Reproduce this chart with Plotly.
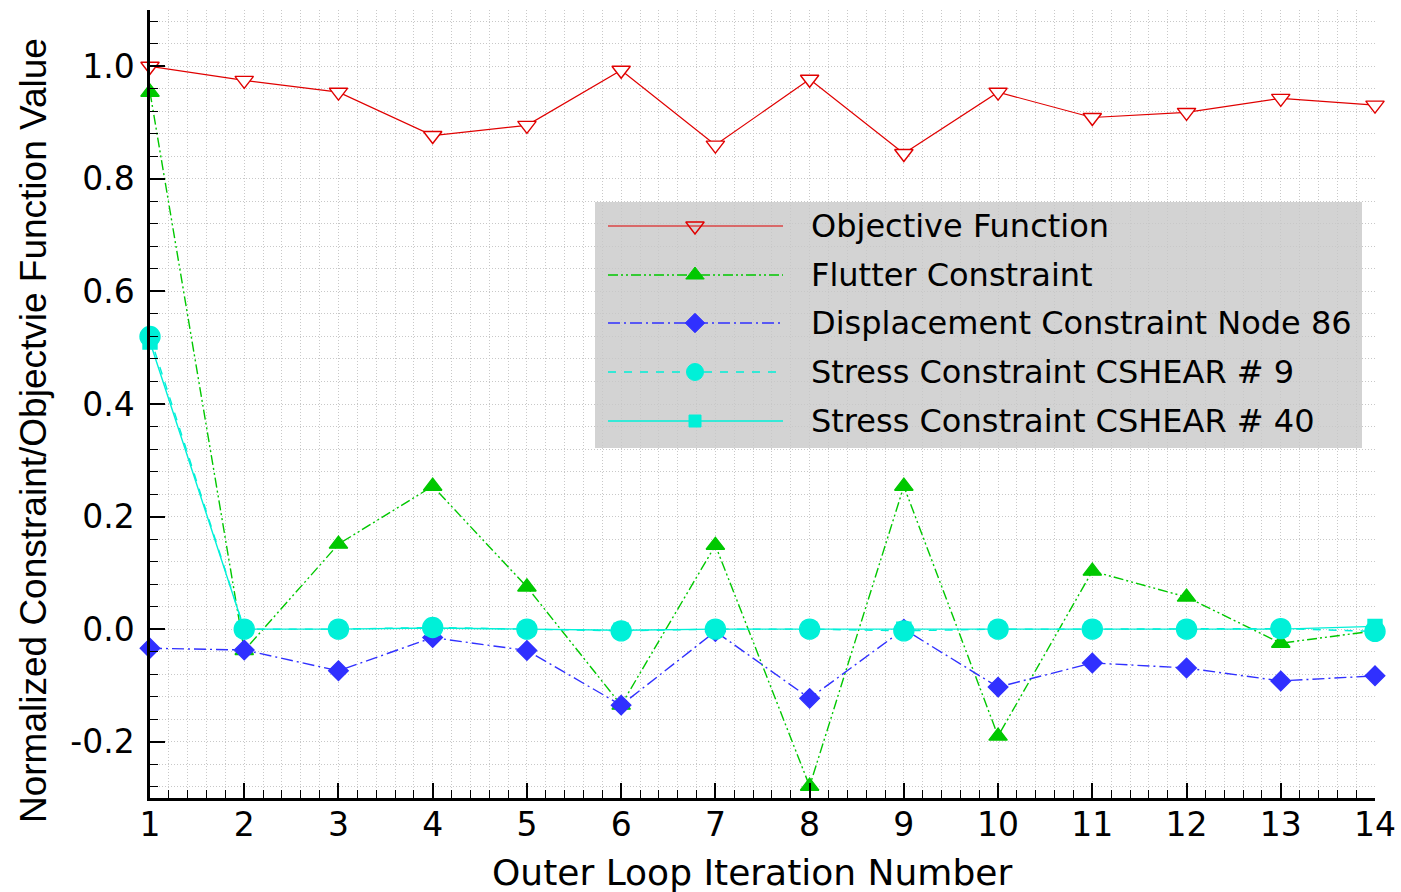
import plotly.graph_objects as go

# Outer-loop optimisation history
iterations = list(range(1, 15))
objective = [1.000, 0.975, 0.954, 0.877, 0.895, 0.993, 0.860, 0.977, 0.845, 0.954, 0.909, 0.918, 0.943, 0.931]
flutter = [0.954, -0.038, 0.151, 0.254, 0.075, -0.135, 0.149, -0.279, 0.254, -0.190, 0.103, 0.057, -0.025, -0.003]
displacement = [-0.034, -0.037, -0.074, -0.015, -0.038, -0.135, -0.004, -0.123, 0.000, -0.103, -0.060, -0.069, -0.092, -0.083]
stress9 = [0.520, 0.000, 0.000, 0.003, 0.000, -0.003, 0.000, 0.000, -0.003, 0.000, 0.000, 0.000, 0.001, -0.004]
stress40 = [0.510, 0.000, 0.000, 0.002, 0.000, -0.002, 0.000, 0.000, 0.000, 0.000, 0.000, 0.000, 0.000, 0.005]

y_tick_values = [-0.2, 0.0, 0.2, 0.4, 0.6, 0.8, 1.0]
y_tick_labels = ["-0.2", "0.0", "0.2", "0.4", "0.6", "0.8", "1.0"]

series_names = [
    "Objective Function",
    "Flutter Constraint",
    "Displacement Constraint Node 86",
    "Stress Constraint CSHEAR # 9",
    "Stress Constraint CSHEAR # 40",
]

RED = "#e00000"
GREEN = "#00c800"
BLUE = "#3030ff"
CYAN = "#00f0d8"
LEGEND_BG = "#d3d3d3"

styles = [
    dict(color=RED, width=1.2, dash="solid", symbol="triangle-down", msize=16, mcolor="white"),
    dict(color=GREEN, width=1.4, dash="10px,3px,2px,3px,2px,3px", symbol="triangle-up", msize=16, mcolor=GREEN),
    dict(color=BLUE, width=1.4, dash="12px,4px,2px,4px", symbol="diamond", msize=15, mcolor=BLUE),
    dict(color=CYAN, width=1.4, dash="8px,8px", symbol="circle", msize=20, mcolor=CYAN),
    dict(color=CYAN, width=1.4, dash="solid", symbol="square", msize=14, mcolor=CYAN),
]

values = [objective, flutter, displacement, stress9, stress40]

fig = go.Figure()

for name, ys, st in zip(series_names, values, styles):
    fig.add_trace(go.Scatter(
        x=iterations, y=ys, name=name, mode="lines+markers",
        line=dict(color=st["color"], width=st["width"], dash=st["dash"]),
        marker=dict(symbol=st["symbol"], size=st["msize"], color=st["mcolor"],
                    line=dict(color=st["color"], width=1.4)),
        cliponaxis=False, showlegend=False,
    ))

# Page and plot-area geometry in pixels
W, H = 1401, 892
L, R, T, B = 150, 26, 10, 94
pw, ph = W - L - R, H - T - B


def px_x(px):
    return (px - L) / pw


def px_y(py):
    return (H - B - py) / ph


TEXT_FONT = "DejaVu Sans, Verdana, sans-serif"
TITLE_FONT = "Liberation Sans, Arial, sans-serif"

# Legend drawn as a grey panel with long line samples
fig.add_shape(type="rect", xref="paper", yref="paper", layer="between",
              x0=px_x(595), x1=px_x(1362), y0=px_y(448), y1=px_y(202),
              fillcolor=LEGEND_BG, line=dict(width=0))

row_y = [226, 275, 323, 372, 421]
line_x0, line_x1, mark_x, text_x = 608, 783, 695, 809
legend_marker_sizes = [16, 16, 15, 17, 12]

for name, st, ry, ms in zip(series_names, styles, row_y, legend_marker_sizes):
    fig.add_shape(type="line", xref="paper", yref="paper", layer="above",
                  x0=px_x(line_x0), x1=px_x(line_x1), y0=px_y(ry), y1=px_y(ry),
                  line=dict(color=st["color"], width=st["width"], dash=st["dash"]))
    fill = LEGEND_BG if name == "Objective Function" else st["mcolor"]
    fig.add_trace(go.Scatter(
        x=[px_x(mark_x)], y=[px_y(ry)], mode="markers",
        marker=dict(symbol=st["symbol"], size=ms, color=fill,
                    line=dict(color=st["color"], width=1.4 if name == "Objective Function" else 1)),
        xaxis="x2", yaxis="y2", showlegend=False, hoverinfo="skip", cliponaxis=False,
    ))
    fig.add_annotation(x=px_x(text_x), y=px_y(ry), xref="paper", yref="paper",
                       text=name, showarrow=False, xanchor="left", yanchor="middle",
                       font=dict(family=TEXT_FONT, size=32, color="black"))

# Axis titles
fig.add_annotation(x=px_x(752), y=px_y(872), xref="paper", yref="paper",
                   text="Outer Loop Iteration Number", showarrow=False,
                   xanchor="center", yanchor="middle",
                   font=dict(family=TEXT_FONT, size=36, color="black"))
fig.add_annotation(x=px_x(33), y=px_y(431), xref="paper", yref="paper",
                   text="Normalized Constraint/Objectvie Function Value", showarrow=False,
                   textangle=-90, xanchor="center", yanchor="middle",
                   font=dict(family=TITLE_FONT, size=37, color="black"))

grid_color = "#c8c8c8"
grid_dash = "1px,2px"

fig.update_layout(
    template="none",
    width=W, height=H,
    margin=dict(l=L, r=R, t=T, b=B, pad=0, autoexpand=False),
    paper_bgcolor="white", plot_bgcolor="white",
    font=dict(family=TEXT_FONT, color="black"),
    showlegend=False,
    xaxis=dict(
        range=[1, 14], tickmode="linear", tick0=1, dtick=1, automargin=False,
        showline=True, linecolor="black", linewidth=2.5, mirror=False,
        ticks="inside", ticklen=15, tickwidth=1.6, tickcolor="black",
        tickfont=dict(size=33, family=TEXT_FONT), ticklabelstandoff=-4,
        showgrid=True, gridcolor=grid_color, gridwidth=1, griddash=grid_dash,
        zeroline=False,
        minor=dict(dtick=0.2, tick0=1, ticks="inside", ticklen=8, tickwidth=1.2,
                   tickcolor="black", showgrid=True, gridcolor=grid_color,
                   gridwidth=1, griddash=grid_dash),
    ),
    yaxis=dict(
        range=[-0.3, 1.1], tickmode="array", tickvals=y_tick_values, ticktext=y_tick_labels,
        automargin=False,
        showline=True, linecolor="black", linewidth=2.5, mirror=False,
        ticks="inside", ticklen=15, tickwidth=1.6, tickcolor="black",
        tickfont=dict(size=33, family=TEXT_FONT), ticklabelstandoff=6,
        showgrid=True, gridcolor=grid_color, gridwidth=1, griddash=grid_dash,
        zeroline=False,
        minor=dict(tickmode="linear", dtick=0.04, tick0=0, ticks="inside", ticklen=8, tickwidth=1.2,
                   tickcolor="black", showgrid=True, gridcolor=grid_color,
                   gridwidth=1, griddash=grid_dash),
    ),
    xaxis2=dict(overlaying="x", range=[0, 1], visible=False, domain=[0, 1], automargin=False),
    yaxis2=dict(overlaying="y", range=[0, 1], visible=False, domain=[0, 1], automargin=False),
)

fig.write_html("out.html")
